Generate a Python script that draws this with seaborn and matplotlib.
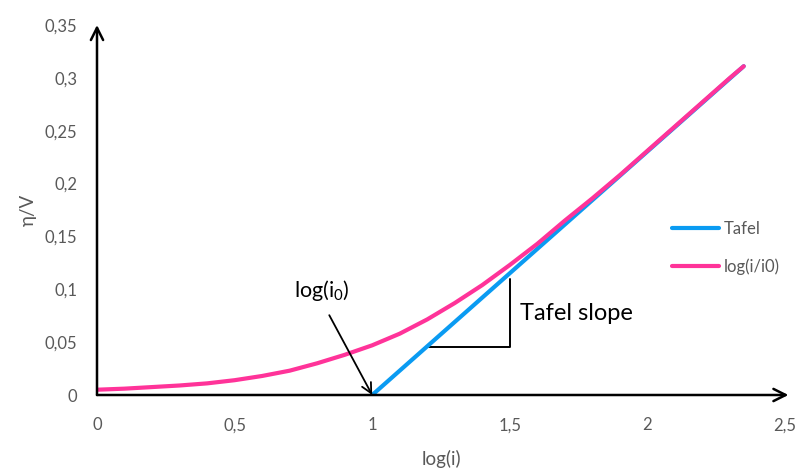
import pandas as pd
import matplotlib.pyplot as plt
import seaborn as sns

# values
tafel_x = [1.0, 2.35]
tafel_y = [0.0, 0.311]

curve_x = [0.0, 0.1, 0.2, 0.3, 0.4, 0.5, 0.6, 0.7, 0.8, 0.9, 1.0, 1.1, 1.2,
           1.3, 1.4, 1.5, 1.6, 1.7, 1.8, 1.9, 2.0, 2.1, 2.2, 2.3, 2.35]
curve_y = [0.005, 0.006, 0.0075, 0.009, 0.011, 0.014, 0.018, 0.023, 0.030,
           0.038, 0.047, 0.058, 0.0715, 0.087, 0.104, 0.123, 0.143, 0.165,
           0.186, 0.208, 0.231, 0.254, 0.277, 0.300, 0.311]

series_names = ['Tafel', 'log(i/i0)']
series_colors = ['#0A9BF2', '#FF3399']

x_ticks = [0, 0.5, 1, 1.5, 2, 2.5]
y_ticks = [0, 0.05, 0.1, 0.15, 0.2, 0.25, 0.3, 0.35]


def comma(v):
    s = f"{v:g}"
    return s.replace('.', ',')


def main():
    sns.set_theme(style='white')
    plt.rcParams['font.family'] = ['Lato', 'DejaVu Sans']
    plt.rcParams['mathtext.default'] = 'regular'

    df = pd.concat([
        pd.DataFrame({'x': tafel_x, 'y': tafel_y, 'series': series_names[0]}),
        pd.DataFrame({'x': curve_x, 'y': curve_y, 'series': series_names[1]}),
    ])

    fig = plt.figure(figsize=(8.01, 4.69), dpi=100)
    ax = fig.add_axes([97 / 801, 1 - 395 / 469, (785 - 97) / 801, (395 - 25) / 469])

    sns.lineplot(data=df, x='x', y='y', hue='series', hue_order=series_names,
                 palette=series_colors, linewidth=3, sort=False,
                 estimator=None, ax=ax, legend=False, zorder=3,
                 solid_joinstyle='round', solid_capstyle='round')

    ax.set_xlim(0, 2.5)
    ax.set_ylim(0, 0.35)
    for sp in ax.spines.values():
        sp.set_visible(False)

    # axes drawn as arrows
    ax.annotate('', xy=(1.005, 0), xytext=(0, 0), xycoords='axes fraction',
                arrowprops=dict(arrowstyle='->', lw=1.8, color='black',
                                mutation_scale=22, shrinkA=0, shrinkB=0),
                annotation_clip=False)
    ax.annotate('', xy=(0, 1.0), xytext=(0, 0), xycoords='axes fraction',
                arrowprops=dict(arrowstyle='->', lw=1.8, color='black',
                                mutation_scale=22, shrinkA=0, shrinkB=0),
                annotation_clip=False)

    ax.set_xticks(x_ticks)
    ax.set_xticklabels([comma(v) for v in x_ticks])
    ax.set_yticks(y_ticks)
    ax.set_yticklabels([comma(v) for v in y_ticks])
    ax.tick_params(axis='x', length=0, pad=16, labelsize=12, labelcolor='#595959')
    ax.tick_params(axis='y', length=0, pad=14, labelsize=12, labelcolor='#595959')

    ax.set_xlabel('log(i)', fontsize=13.5, color='#595959', labelpad=12)
    ax.set_ylabel('η/V', fontsize=13.5, color='#595959', labelpad=6)

    # annotations
    ax.text(0.818, 0.099, r'log(i$_0$)', fontsize=15.5, ha='center', va='center',
            color='black')
    ax.annotate('', xy=(1.0, 0.0), xytext=(0.844, 0.0755),
                arrowprops=dict(arrowstyle='->', lw=1.3, color='black',
                                mutation_scale=18, shrinkA=0, shrinkB=0))
    ax.plot([1.207, 1.502, 1.502], [0.0456, 0.0456, 0.110], color='black',
            lw=1.4, zorder=2)
    ax.text(1.538, 0.077, 'Tafel slope', fontsize=17, ha='left', va='center',
            color='black')

    handles = [plt.Line2D([], [], color=c, lw=3) for c in series_colors]
    leg = fig.legend(handles, series_names, loc='upper left',
                     bbox_to_anchor=(672 / 801, (469 - 221) / 469),
                     frameon=False, fontsize=12, handlelength=2.8,
                     handletextpad=0.3, labelspacing=1.3,
                     borderpad=0, borderaxespad=0)
    for t in leg.get_texts():
        t.set_color('#595959')

    fig.savefig('out.png', dpi=100)


if __name__ == '__main__':
    main()
